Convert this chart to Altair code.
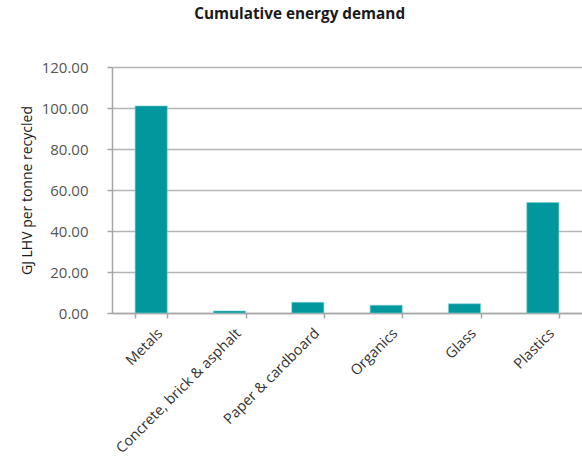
import altair as alt
import pandas as pd

# Cumulative energy demand per material stream (GJ LHV per tonne recycled)
materials = ["Metals", "Concrete, brick & asphalt", "Paper & cardboard",
             "Organics", "Glass", "Plastics"]
energy = [101.0, 1.0, 5.2, 3.8, 4.5, 53.9]

df = pd.DataFrame({"material": materials, "energy": energy})

FONT = "Open Sans"

chart = (
    alt.Chart(df)
    .mark_bar(color="#00979d", stroke="#7fd0d3", strokeWidth=0.6)
    .encode(
        x=alt.X(
            "material:N",
            sort=materials,
            title=None,
            scale=alt.Scale(paddingInner=0.59, paddingOuter=0.295),
            axis=alt.Axis(
                labelAngle=-45,
                labelAlign="right",
                labelBaseline="middle",
                labelFontSize=14.5,
                labelColor="#333333",
                labelFont=FONT,
                labelPadding=13,
                labelOffset=9,
                labelLimit=300,
                tickBand="extent",
                tickSize=5,
                tickColor="#a6a6a6",
                tickWidth=1.5,
                domainColor="#a6a6a6",
                domainWidth=1.5,
            ),
        ),
        y=alt.Y(
            "energy:Q",
            title="GJ LHV per tonne recycled",
            scale=alt.Scale(domain=[0, 120], nice=False),
            axis=alt.Axis(
                values=[0, 20, 40, 60, 80, 100, 120],
                format=".2f",
                labelFontSize=15,
                labelColor="#555555",
                labelFont=FONT,
                labelPadding=19,
                tickSize=5,
                tickColor="#a6a6a6",
                tickWidth=1.5,
                domainColor="#a6a6a6",
                domainWidth=1.5,
                gridColor="#b5b5b5",
                gridWidth=1.5,
                titleFont=FONT,
                titleFontSize=14,
                titleFontWeight="normal",
                titleColor="#1a1a1a",
                titlePadding=7,
            ),
        ),
    )
    .properties(
        width=470,
        height=246,
        title=alt.Title(
            "Cumulative energy demand",
            font=FONT,
            fontSize=15.3,
            fontWeight="bold",
            color="#1a1a1a",
            anchor="start",
            dx=174,
            offset=38,
        ),
        padding={"left": 112, "top": 67, "right": 0, "bottom": 153},
        autosize=alt.AutoSizeParams(type="none"),
    )
    .configure_view(stroke=None)
)

chart.save("out.html", embed_options={"renderer": "svg", "actions": False})
